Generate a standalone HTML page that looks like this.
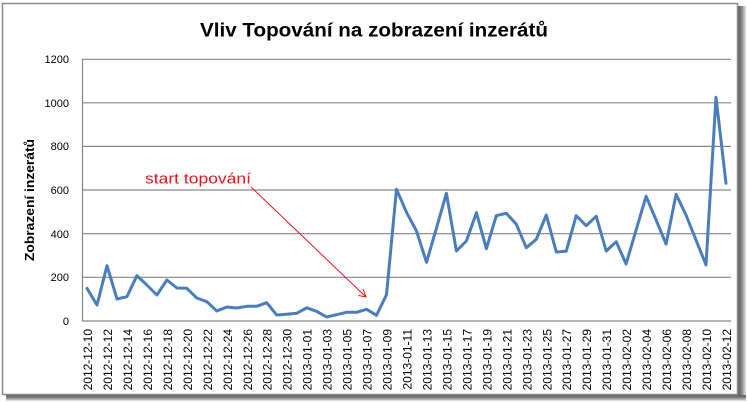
<!DOCTYPE html>
<html><head><meta charset="utf-8"><style>
html,body{margin:0;padding:0;background:#fff;width:747px;height:403px;overflow:hidden}
svg{display:block}
</style></head><body>
<svg width="747" height="403" viewBox="0 0 747 403" xmlns="http://www.w3.org/2000/svg">
<defs>
<linearGradient id="sr" x1="0" x2="1" y1="0" y2="0"><stop offset="0" stop-color="#5a5a5a"/><stop offset="0.5" stop-color="#8a8a8a"/><stop offset="1" stop-color="#e6e6e6"/></linearGradient>
<linearGradient id="sb" x1="0" x2="0" y1="0" y2="1"><stop offset="0" stop-color="#5a5a5a"/><stop offset="0.5" stop-color="#8a8a8a"/><stop offset="1" stop-color="#e6e6e6"/></linearGradient>
</defs>
<rect x="0" y="0" width="747" height="403" fill="#fff"/>
<!-- shadow -->
<rect x="738" y="6" width="8" height="394" fill="url(#sr)"/>
<rect x="6" y="395" width="740" height="6" fill="url(#sb)"/>
<!-- frame -->
<rect x="2.5" y="3.5" width="735" height="391" fill="#fff" stroke="#8c8c8c" stroke-width="1.5"/>
<!-- gridlines -->
<g stroke="#868686" stroke-width="1.2">
<line x1="82" y1="59.3" x2="731" y2="59.3"/>
<line x1="82" y1="102.8" x2="731" y2="102.8"/>
<line x1="82" y1="146.4" x2="731" y2="146.4"/>
<line x1="82" y1="190" x2="731" y2="190"/>
<line x1="82" y1="233.7" x2="731" y2="233.7"/>
<line x1="82" y1="277.3" x2="731" y2="277.3"/>
<line x1="82" y1="321" x2="731" y2="321"/>
<line x1="82.5" y1="59" x2="82.5" y2="321"/>
</g>
<!-- y tick labels -->
<g font-family="Liberation Sans, sans-serif" font-size="11" fill="#000" text-anchor="end">
<text x="69" y="63">1200</text>
<text x="69" y="107">1000</text>
<text x="69" y="150">800</text>
<text x="69" y="194">600</text>
<text x="69" y="238">400</text>
<text x="69" y="281">200</text>
<text x="69" y="325">0</text>
</g>
<!-- title -->
<text x="374" y="36.5" text-anchor="middle" font-family="Liberation Sans, sans-serif" font-weight="bold" font-size="19" textLength="348" lengthAdjust="spacingAndGlyphs" fill="#000">Vliv Topování na zobrazení inzerátů</text>
<!-- y axis title -->
<text transform="translate(34,200) rotate(-90)" text-anchor="middle" font-family="Liberation Sans, sans-serif" font-weight="bold" font-size="12.5" textLength="122" lengthAdjust="spacingAndGlyphs" fill="#000">Zobrazení inzerátů</text>
<!-- data line -->
<polyline fill="none" stroke="#4a7ebb" stroke-width="3" stroke-linejoin="round" stroke-linecap="round" points="87.0,288.3 97.0,305 107.0,265.7 117.0,299 126.9,296.7 136.9,275.7 146.9,285 156.9,295 166.9,280 176.9,288 186.8,288.3 196.8,298 206.8,301.7 216.8,311 226.8,307 236.8,308 246.8,306.3 256.7,306.3 266.7,302.7 276.7,315 286.7,314.3 296.7,313.3 306.7,307.8 316.6,311.3 326.6,317 336.6,314.7 346.6,312.3 356.6,312.3 366.6,309.3 376.5,315.3 386.5,294.7 396.5,189.3 406.5,212.3 416.5,231 426.5,262.3 436.4,228.3 446.4,193.3 456.4,251 466.4,241 476.4,212.7 486.4,248.7 496.3,215.7 506.3,213.3 516.3,224.2 526.3,247.7 536.3,239.3 546.3,215 556.3,252 566.2,251.3 576.2,215.7 586.2,225.7 596.2,216.3 606.2,251 616.2,241.7 626.1,264 636.1,230 646.1,196.3 656.1,220 666.1,244 676.1,194.3 686.0,215 696.0,240 706.0,265 716.0,97.3 726.0,183.3"/>
<!-- annotation -->
<text x="145" y="183.5" font-family="Liberation Sans, sans-serif" font-size="14.5" textLength="106" lengthAdjust="spacingAndGlyphs" fill="#e8141b">start topování</text>
<g stroke="#e8141b" stroke-width="1" fill="none">
<line x1="251" y1="187" x2="366" y2="297"/>
<polyline points="358.5,295.5 366,297 363,289"/>
</g>
<!-- x labels -->
<g font-family="Liberation Sans, sans-serif" font-size="12" fill="#000" text-anchor="end">
<text transform="translate(92,329) rotate(-90)">2012-12-10</text>
<text transform="translate(112,329) rotate(-90)">2012-12-12</text>
<text transform="translate(131.9,329) rotate(-90)">2012-12-14</text>
<text transform="translate(151.9,329) rotate(-90)">2012-12-16</text>
<text transform="translate(171.9,329) rotate(-90)">2012-12-18</text>
<text transform="translate(191.8,329) rotate(-90)">2012-12-20</text>
<text transform="translate(211.8,329) rotate(-90)">2012-12-22</text>
<text transform="translate(231.8,329) rotate(-90)">2012-12-24</text>
<text transform="translate(251.8,329) rotate(-90)">2012-12-26</text>
<text transform="translate(271.7,329) rotate(-90)">2012-12-28</text>
<text transform="translate(291.7,329) rotate(-90)">2012-12-30</text>
<text transform="translate(311.7,329) rotate(-90)">2013-01-01</text>
<text transform="translate(331.6,329) rotate(-90)">2013-01-03</text>
<text transform="translate(351.6,329) rotate(-90)">2013-01-05</text>
<text transform="translate(371.6,329) rotate(-90)">2013-01-07</text>
<text transform="translate(391.5,329) rotate(-90)">2013-01-09</text>
<text transform="translate(411.5,329) rotate(-90)">2013-01-11</text>
<text transform="translate(431.5,329) rotate(-90)">2013-01-13</text>
<text transform="translate(451.4,329) rotate(-90)">2013-01-15</text>
<text transform="translate(471.4,329) rotate(-90)">2013-01-17</text>
<text transform="translate(491.4,329) rotate(-90)">2013-01-19</text>
<text transform="translate(511.3,329) rotate(-90)">2013-01-21</text>
<text transform="translate(531.3,329) rotate(-90)">2013-01-23</text>
<text transform="translate(551.3,329) rotate(-90)">2013-01-25</text>
<text transform="translate(571.2,329) rotate(-90)">2013-01-27</text>
<text transform="translate(591.2,329) rotate(-90)">2013-01-29</text>
<text transform="translate(611.2,329) rotate(-90)">2013-01-31</text>
<text transform="translate(631.1,329) rotate(-90)">2013-02-02</text>
<text transform="translate(651.1,329) rotate(-90)">2013-02-04</text>
<text transform="translate(671.1,329) rotate(-90)">2013-02-06</text>
<text transform="translate(691,329) rotate(-90)">2013-02-08</text>
<text transform="translate(711,329) rotate(-90)">2013-02-10</text>
<text transform="translate(731,329) rotate(-90)">2013-02-12</text>
</g>
</svg>
</body></html>
